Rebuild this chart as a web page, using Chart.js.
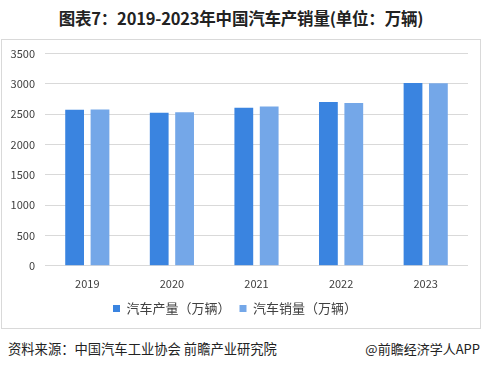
<!DOCTYPE html>
<html>
<head>
<meta charset="utf-8">
<script src="https://cdn.jsdelivr.net/npm/chart.js@4/dist/chart.umd.min.js"></script>
<style>
  body { margin: 0; background: #fff; font-family: "Noto Sans CJK SC", "Microsoft YaHei", sans-serif; }
  #wrap { position: relative; width: 482px; height: 368px; overflow: hidden; }
  #title { position: absolute; left: 0; top: 6px; width: 482px; text-align: center;
    font-size: 16.5px; font-weight: bold; color: #222; letter-spacing: -0.2px; }
  #box { position: absolute; left: 1px; top: 39px; width: 478px; height: 288px; border: 1px solid #d9d9d9; }
  #chart { position: absolute; left: 0; top: -3px; }
  #foot-left { position: absolute; left: 8px; top: 339px; font-size: 13.3px; color: #222; }
  #foot-right { position: absolute; right: 2px; top: 339px; font-size: 13px; color: #222; }
</style>
</head>
<body>
<div id="wrap">
  <div id="title">图表7：2019-2023年中国汽车产销量(单位：万辆)</div>
  <div id="box"><canvas id="chart" width="478" height="291"></canvas></div>
  <div id="foot-left">资料来源：中国汽车工业协会 前瞻产业研究院</div>
  <div id="foot-right">@前瞻经济学人APP</div>
</div>
<script>
// 数据
const years = ['2019', '2020', '2021', '2022', '2023'];
const production = [2572.1, 2522.5, 2608.2, 2702.1, 3016.1];
const sales = [2576.9, 2531.1, 2627.5, 2686.4, 3009.4];
const seriesNames = ['汽车产量（万辆）', '汽车销量（万辆）'];

const tickFont = { family: '"Noto Sans CJK SC", sans-serif', size: 11 };

new Chart(document.getElementById('chart'), {
  type: 'bar',
  data: {
    labels: years,
    datasets: [
      { label: seriesNames[0], data: production, backgroundColor: '#3a84e0' },
      { label: seriesNames[1], data: sales, backgroundColor: '#74a7e8' }
    ]
  },
  options: {
    responsive: false,
    animation: false,
    layout: { padding: { top: 3, right: 12, left: 0, bottom: 3 } },
    datasets: { bar: { barPercentage: 0.74, categoryPercentage: 0.6 } },
    scales: {
      x: {
        grid: { display: false },
        border: { display: false },
        ticks: { color: '#404040', font: tickFont, padding: 3 }
      },
      y: {
        min: 0,
        max: 3500,
        ticks: { stepSize: 500, color: '#404040', font: tickFont, padding: 10,
          callback: (v) => String(v) },
        grid: { color: '#d9d9d9', drawTicks: false },
        border: { display: false },
        afterFit: (axis) => { axis.width = 43; }
      }
    },
    plugins: {
      legend: {
        position: 'bottom',
        labels: {
          boxWidth: 7, boxHeight: 7, padding: 9,
          color: '#404040',
          font: { family: '"Noto Sans CJK SC", sans-serif', size: 13 }
        }
      },
      tooltip: { enabled: false }
    }
  }
});
</script>
</body>
</html>
